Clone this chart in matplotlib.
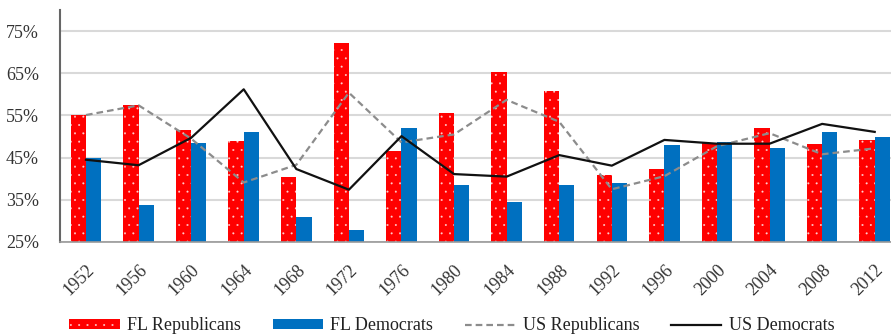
import numpy as np
import matplotlib.pyplot as plt

plt.rcParams['font.family'] = ['Liberation Serif', 'DejaVu Serif']
plt.rcParams['hatch.linewidth'] = 0.2

years = ['1952', '1956', '1960', '1964', '1968', '1972', '1976', '1980',
         '1984', '1988', '1992', '1996', '2000', '2004', '2008', '2012']
fl_rep = [55.1, 57.5, 51.5, 48.9, 40.4, 72.2, 46.6, 55.5,
          65.4, 60.9, 41.0, 42.4, 48.5, 52.1, 48.3, 49.2]
fl_dem = [45.0, 33.7, 48.5, 51.1, 30.9, 27.8, 52.0, 38.4,
          34.6, 38.4, 39.0, 48.1, 48.8, 47.2, 51.0, 50.0]
us_rep = [55.1, 57.4, 49.5, 39.1, 43.3, 60.4, 48.6, 50.5,
          58.7, 53.5, 37.5, 40.6, 47.7, 50.8, 45.8, 47.2]
us_dem = [44.5, 43.2, 49.7, 61.2, 42.3, 37.4, 50.1, 41.1,
          40.5, 45.6, 43.1, 49.2, 48.3, 48.3, 53.0, 51.1]
yticks = [25, 35, 45, 55, 65, 75]

x = np.arange(len(years))
w = 0.29

fig = plt.figure(figsize=(8.91, 3.36), dpi=100)
ax = fig.add_axes([59.7 / 891, 94 / 336, 841.3 / 891, 232 / 336])

b1 = ax.bar(x - w / 2, fl_rep, w, color='#FF0000', edgecolor='#FFD0D0',
            linewidth=0, hatch='..', label='FL Republicans', zorder=2)
b2 = ax.bar(x + w / 2, fl_dem, w, color='#0070C0', linewidth=0,
            label='FL Democrats', zorder=2)
l1, = ax.plot(x, us_rep, color='#8C8C8C', lw=1.6, dashes=(3, 1.8),
              label='US Republicans', zorder=3)
l2, = ax.plot(x, us_dem, color='#111111', lw=1.6, label='US Democrats', zorder=3)

ax.set_xlim(-0.5, len(years) - 0.5)
ax.set_ylim(25, 80)
ax.set_yticks(yticks)
ax.set_yticklabels([f'{v}%' for v in yticks])
ax.set_xticks(x)
ax.set_xticklabels(years, rotation=45, ha='right', rotation_mode='anchor')
ax.tick_params(axis='y', length=0, pad=15, labelsize=13, labelcolor='#333333')
ax.tick_params(axis='x', length=0, pad=14, labelsize=13, labelcolor='#333333')

ax.set_axisbelow(True)
ax.yaxis.grid(True, color='#D9D9D9', lw=1.5)
for s in ['top', 'right']:
    ax.spines[s].set_visible(False)
ax.spines['left'].set_color('#666666')
ax.spines['left'].set_linewidth(1.5)
ax.spines['bottom'].set_color('#999999')
ax.spines['bottom'].set_linewidth(1.2)

fig.legend(handles=[b1, b2, l1, l2], loc='center', bbox_to_anchor=(0.507, 0.03),
           ncol=4, frameon=False, fontsize=13, handlelength=2.8,
           handleheight=0.45, handletextpad=0.4, columnspacing=1.75,
           labelcolor='#222222')

fig.savefig('out.png', dpi=100)
